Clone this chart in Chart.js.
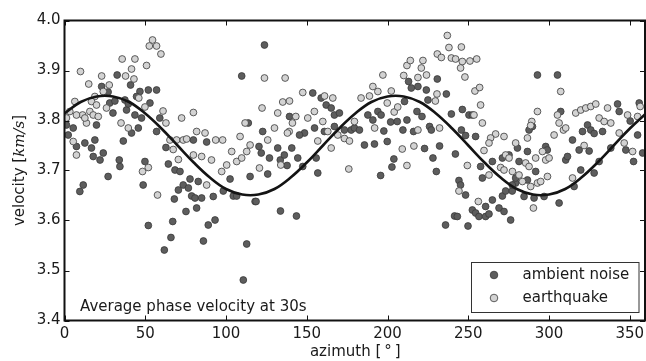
<!DOCTYPE html>
<html>
<head>
<meta charset="utf-8">
<script src="https://cdn.jsdelivr.net/npm/chart.js@4/dist/chart.umd.min.js"></script>
<style>
  html, body { margin: 0; padding: 0; background: #fff; }
  #wrap { width: 646px; height: 361px; }
</style>
</head>
<body>
<div id="wrap"><canvas id="velChart" width="646" height="361"></canvas></div>
<script>
/* ======================================================
   DATA
====================================================== */
const ambientAz = [
    1.2, 2.3, 5.4, 7.4, 12.6, 16.7, 18.8, 17.8, 22.0, 24.0, 11.6, 9.5, 27.0, 19.8, 23.0, 28.0,
    30.0, 32.6, 40.9, 37.4, 38.4, 43.6, 46.7, 51.9, 57.0, 52.9, 47.7, 45.7, 41.5, 36.4, 33.9, 34.3,
    49.8, 48.7, 57.0, 59.0, 62.8, 64.3, 68.4, 71.5, 73.5, 77.7, 76.7, 78.7, 70.5, 68.0, 75.2, 81.8,
    80.8, 84.9, 82.8, 92.1, 98.3, 102.5, 104.5, 106.6, 79.8, 88.0, 114.9, 118.0, 93.2, 89.0, 86.0, 67.0,
    65.9, 61.8, 51.9, 112.8, 110.7, 109.7, 113.8, 27.0, 31.2, 44.6, 39.5,
    123.8, 122.7, 120.4, 121.8, 126.9, 125.8, 118.6, 132.0, 133.6, 136.1, 137.8, 140.7, 144.4, 147.5,
    155.8, 156.8, 133.7, 143.6, 153.7, 158.9, 162.0, 165.1, 167.1, 170.2, 154.8, 148.6, 145.5, 139.3,
    167.1, 160.9, 173.3, 177.5, 179.5, 182.6, 185.7, 191.9, 187.8, 190.9, 194.0, 196.0, 197.7, 199.8,
    201.9, 203.9, 202.7, 195.7, 206.0, 210.5, 209.5, 213.0, 214.7, 218.8, 224.0, 225.0, 230.8, 212.0,
    216.1, 218.2, 221.3, 226.0, 227.1, 232.2, 222.9, 228.1, 230.2, 236.4, 239.5, 235.9, 241.5,
    246.3, 250.4, 252.5, 245.7, 248.3, 254.5, 242.0, 257.6, 258.7, 244.2, 245.2, 248.3, 243.2, 249.8,
    252.5, 254.5, 256.6, 260.7, 262.8, 260.7, 264.9, 269.0, 272.1, 276.2, 271.1, 273.1, 277.2, 279.3,
    264.9, 271.1, 275.2, 280.4, 281.4, 286.6, 286.6, 279.3, 277.2, 284.5, 290.7, 296.9, 306.2, 297.9,
    298.9, 292.8, 305.2, 307.2, 289.7, 287.6, 291.7, 310.3, 311.4, 315.5, 314.5, 320.7, 323.8, 325.8,
    327.9, 333.1, 318.6, 324.8, 319.6, 327.9, 331.0, 338.2, 342.4, 343.4, 350.2, 347.5, 352.3, 355.8,
    354.8, 357.9
];
const ambientVel = [
    3.791, 3.771, 3.785, 3.748, 3.755, 3.745, 3.761, 3.728, 3.721, 3.735, 3.671, 3.658, 3.688, 3.791, 3.868, 3.835,
    3.815, 3.891, 3.871, 3.841, 3.821, 3.811, 3.858, 3.861, 3.861, 3.835, 3.805, 3.785, 3.775, 3.759, 3.721, 3.708,
    3.718, 3.671, 3.778, 3.805, 3.746, 3.713, 3.701, 3.698, 3.671, 3.683, 3.665, 3.649, 3.661, 3.643, 3.618, 3.625,
    3.645, 3.645, 3.678, 3.648, 3.659, 3.683, 3.649, 3.649, 3.761, 3.757, 3.688, 3.638, 3.601, 3.591, 3.559, 3.598,
    3.566, 3.541, 3.590, 3.553, 3.481, 3.889, 3.795, 3.857, 3.839, 3.848, 3.833,
    3.951, 3.778, 3.748, 3.735, 3.725, 3.693, 3.638, 3.745, 3.721, 3.731, 3.710, 3.745, 3.725, 3.708,
    3.725, 3.695, 3.619, 3.609, 3.855, 3.845, 3.831, 3.825, 3.811, 3.815, 3.785, 3.775, 3.771, 3.808,
    3.788, 3.778, 3.781, 3.781, 3.785, 3.781, 3.751, 3.753, 3.811, 3.801, 3.818, 3.811, 3.779, 3.758,
    3.797, 3.723, 3.707, 3.690, 3.798, 3.838, 3.781, 3.878, 3.865, 3.868, 3.861, 3.841, 3.883, 3.801,
    3.778, 3.818, 3.808, 3.788, 3.781, 3.749, 3.744, 3.725, 3.698, 3.853, 3.813, 3.591, 3.609,
    3.822, 3.811, 3.811, 3.781, 3.770, 3.768, 3.733, 3.708, 3.685, 3.680, 3.671, 3.651, 3.608, 3.589,
    3.621, 3.615, 3.608, 3.608, 3.613, 3.628, 3.641, 3.625, 3.618, 3.601, 3.649, 3.659, 3.659, 3.675,
    3.718, 3.725, 3.731, 3.745, 3.718, 3.738, 3.681, 3.685, 3.671, 3.648, 3.645, 3.648, 3.635, 3.748,
    3.741, 3.891, 3.891, 3.818, 3.788, 3.781, 3.698, 3.721, 3.728, 3.668, 3.761, 3.778, 3.791, 3.781,
    3.774, 3.778, 3.741, 3.739, 3.701, 3.695, 3.718, 3.745, 3.833, 3.818, 3.799, 3.741, 3.718, 3.835,
    3.771, 3.735
];

const quakeAz = [
    9.9, 15.0, 23.0, 35.7, 43.6, 41.5, 37.8, 43.0, 50.8, 54.5, 52.5, 57.0, 59.7, 27.7, 24.0, 18.8,
    6.4, 3.3, 11.2, 15.7, 17.8, 13.6, 7.4, 5.4, 35.0, 39.5, 46.0, 49.8, 61.0, 62.8, 79.8, 72.5,
    65.3, 69.4, 73.5, 75.6, 81.8, 87.0, 93.6, 97.9, 79.8, 84.9, 91.0, 103.5, 108.7, 111.8, 51.9, 48.3,
    57.6, 70.5, 67.3, 88.0, 97.3, 106.6, 114.9, 7.4, 12.6, 16.7, 19.8, 26.0, 20.9, 1.2, 100.4, 109.7, 112.8,
    123.8, 136.6, 147.5, 122.3, 135.1, 139.3, 132.0, 143.2, 141.1, 139.1, 138.0, 130.0, 125.8, 120.7,
    133.9, 150.6, 154.7, 159.9, 156.8, 165.1, 161.0, 166.1, 163.0, 169.2, 173.3, 176.4, 176.0, 179.5,
    183.6, 188.8, 190.9, 194.0, 197.1, 199.8, 202.3, 192.0, 204.1, 206.3, 209.1, 212.0, 216.3, 210.0,
    212.0, 214.1, 218.8, 220.9, 221.9, 224.1, 230.6, 229.6, 230.8, 233.3, 237.0, 238.0, 239.5, 232.2,
    218.8,
    245.7, 242.1, 246.3, 251.0, 255.2, 245.2, 247.9, 254.1, 257.0, 257.6, 253.5, 258.7, 266.9, 263.8,
    262.8, 272.1, 259.7, 249.4, 262.8, 244.2, 256.2, 273.1, 275.2, 279.3, 270.0, 272.1, 277.3, 281.4,
    285.5, 287.6, 283.5, 292.8, 289.3, 288.6, 286.6, 291.7, 295.9, 297.9, 300.0, 288.6, 292.8, 294.8,
    299.0, 290.3, 303.1, 307.2, 305.2, 308.9, 310.3, 306.2, 316.5, 319.6, 322.7, 325.8, 328.9, 336.2,
    331.0, 334.1, 338.2, 321.7, 314.5, 343.4, 346.5, 351.7, 348.6, 356.4, 354.8
];
const quakeVel = [
    3.898, 3.873, 3.889, 3.923, 3.923, 3.903, 3.889, 3.883, 3.910, 3.961, 3.949, 3.949, 3.933, 3.871, 3.858, 3.848,
    3.838, 3.818, 3.811, 3.818, 3.811, 3.795, 3.731, 3.758, 3.795, 3.785, 3.845, 3.827, 3.819, 3.795, 3.816, 3.805,
    3.761, 3.761, 3.761, 3.763, 3.778, 3.775, 3.761, 3.761, 3.731, 3.728, 3.721, 3.738, 3.768, 3.795, 3.706, 3.698,
    3.651, 3.722, 3.742, 3.671, 3.698, 3.718, 3.751, 3.811, 3.805, 3.838, 3.831, 3.825, 3.808, 3.805, 3.711, 3.725, 3.738,
    3.885, 3.885, 3.856, 3.825, 3.837, 3.839, 3.815, 3.808, 3.795, 3.778, 3.775, 3.785, 3.761, 3.705,
    3.711, 3.805, 3.818, 3.798, 3.759, 3.745, 3.849, 3.845, 3.778, 3.771, 3.764, 3.759, 3.703, 3.798,
    3.845, 3.849, 3.868, 3.858, 3.891, 3.835, 3.859, 3.785, 3.817, 3.827, 3.743, 3.710, 3.749, 3.890,
    3.910, 3.920, 3.886, 3.905, 3.920, 3.891, 3.853, 3.839, 3.933, 3.926, 3.970, 3.946, 3.925, 3.785,
    3.781,
    3.947, 3.923, 3.918, 3.919, 3.923, 3.905, 3.887, 3.859, 3.866, 3.831, 3.811, 3.795, 3.773, 3.765,
    3.755, 3.768, 3.740, 3.710, 3.691, 3.659, 3.638, 3.731, 3.725, 3.755, 3.706, 3.701, 3.698, 3.691,
    3.715, 3.708, 3.678, 3.818, 3.798, 3.790, 3.765, 3.725, 3.738, 3.721, 3.725, 3.668, 3.675, 3.678,
    3.688, 3.625, 3.771, 3.858, 3.811, 3.781, 3.785, 3.795, 3.815, 3.821, 3.825, 3.828, 3.833, 3.825,
    3.805, 3.798, 3.795, 3.750, 3.685, 3.775, 3.755, 3.738, 3.811, 3.828, 3.808
];

// fitted curve, read every 10 degrees
const fitAz = [0, 10, 20, 30, 40, 50, 60, 70, 80, 90, 100, 110, 120, 130, 140, 150, 160, 170, 180,
               190, 200, 210, 220, 230, 240, 250, 260, 270, 280, 290, 300, 310, 320, 330, 340, 350, 360];
const fitVel = [3.814, 3.837, 3.848, 3.848, 3.837, 3.814, 3.784, 3.750, 3.716, 3.686, 3.663, 3.652, 3.652,
                3.663, 3.686, 3.716, 3.750, 3.784, 3.814, 3.837, 3.848, 3.848, 3.837, 3.814, 3.784, 3.750,
                3.716, 3.686, 3.663, 3.652, 3.652, 3.663, 3.686, 3.716, 3.750, 3.784, 3.814];

const xTicks = [0, 50, 100, 150, 200, 250, 300, 350];
const yTicks = [3.4, 3.5, 3.6, 3.7, 3.8, 3.9, 4.0];

const seriesNames = ['ambient noise', 'earthquake'];
const noteText = 'Average phase velocity at 30s';

/* ======================================================
   STYLE
====================================================== */
const FONT = 'DejaVu Sans';
const FS = 15;
const TXT = '#1a1a1a';
const DARK = '#5d5d5d';
const LIGHT = '#d3d3d3';
const EDGE = '#3a3a3a';

const toPts = (xs, ys) => xs.map((x, i) => ({ x: x, y: ys[i] }));

/* ======================================================
   FRAME / TICKS / TITLES / LEGEND
====================================================== */
const decor = {
    id: 'decor',
    afterDraw(chart) {
        const ctx = chart.ctx;
        const a = chart.chartArea;
        const xs = chart.scales.x;
        const ys = chart.scales.y;
        const tl = 5;

        ctx.save();
        // inward ticks on all four sides
        ctx.strokeStyle = '#111';
        ctx.lineWidth = 1;
        ctx.beginPath();
        xTicks.forEach(v => {
            const px = Math.round(xs.getPixelForValue(v)) + 0.5;
            ctx.moveTo(px, a.bottom); ctx.lineTo(px, a.bottom - tl);
            ctx.moveTo(px, a.top); ctx.lineTo(px, a.top + tl);
        });
        yTicks.forEach(v => {
            const py = Math.round(ys.getPixelForValue(v)) + 0.5;
            ctx.moveTo(a.left, py); ctx.lineTo(a.left + tl, py);
            ctx.moveTo(a.right - 1, py); ctx.lineTo(a.right - 1 - tl, py);
        });
        ctx.stroke();

        // spines
        ctx.lineWidth = 2;
        ctx.strokeRect(a.left, a.top, a.right - a.left - 1, a.bottom - a.top);

        // note in lower left
        ctx.fillStyle = TXT;
        ctx.font = `${FS}px ${FONT}`;
        ctx.textAlign = 'left';
        ctx.textBaseline = 'alphabetic';
        ctx.fillText(noteText, 80, 311);

        // legend
        const lx = 471.5, ly = 262.5, lw = 167.5, lh = 50;
        ctx.fillStyle = '#fff';
        ctx.fillRect(lx, ly, lw, lh);
        ctx.strokeStyle = '#333';
        ctx.lineWidth = 1;
        ctx.strokeRect(lx, ly, lw, lh);
        [[DARK, 275], [LIGHT, 298]].forEach(([c, y], i) => {
            ctx.beginPath();
            ctx.arc(494, y, 3.8, 0, Math.PI * 2);
            ctx.fillStyle = c;
            ctx.fill();
            ctx.strokeStyle = EDGE;
            ctx.lineWidth = 0.8;
            ctx.stroke();
            ctx.fillStyle = TXT;
            ctx.textBaseline = 'middle';
            ctx.fillText(seriesNames[i], 522.5, y);
        });

        // x title
        ctx.textAlign = 'center';
        ctx.textBaseline = 'middle';
        ctx.fillText('azimuth [\u2009°\u2009]', (a.left + a.right) / 2, 352);

        // y title with italic unit
        const parts = [
            ['velocity [', `${FS}px ${FONT}`],
            ['km/s', `italic ${FS}px "DejaVu Serif"`],
            [']', `${FS}px ${FONT}`]
        ];
        let total = 0;
        parts.forEach(p => { ctx.font = p[1]; total += ctx.measureText(p[0]).width; });
        ctx.translate(20, (a.top + a.bottom) / 2);
        ctx.rotate(-Math.PI / 2);
        ctx.textAlign = 'left';
        let cx = -total / 2;
        parts.forEach(p => {
            ctx.font = p[1];
            ctx.fillText(p[0], cx, 0);
            cx += ctx.measureText(p[0]).width;
        });
        ctx.restore();
    }
};

/* ======================================================
   CHART
====================================================== */
const ctx = document.getElementById('velChart').getContext('2d');

new Chart(ctx, {
    type: 'scatter',
    data: {
        datasets: [
            {
                label: 'fit',
                data: toPts(fitAz, fitVel),
                showLine: true,
                borderColor: '#141414',
                borderWidth: 2.6,
                pointRadius: 0,
                tension: 0.4,
                order: 0
            },
            {
                label: seriesNames[1],
                data: toPts(quakeAz, quakeVel),
                backgroundColor: LIGHT,
                borderColor: EDGE,
                borderWidth: 0.8,
                pointRadius: 3.4,
                order: 1
            },
            {
                label: seriesNames[0],
                data: toPts(ambientAz, ambientVel),
                backgroundColor: DARK,
                borderColor: EDGE,
                borderWidth: 0.8,
                pointRadius: 3.4,
                order: 2
            }
        ]
    },
    options: {
        responsive: false,
        animation: false,
        devicePixelRatio: 1,
        layout: {
            autoPadding: false,
            padding: { top: 20.5, right: 0, bottom: 0, left: 0 }
        },
        plugins: {
            legend: { display: false },
            tooltip: { enabled: false }
        },
        scales: {
            x: {
                type: 'linear',
                min: 0,
                max: 360,
                afterFit: s => {
                    s.height = 40.5;
                    s.paddingLeft = 0;
                    s.paddingRight = 0;
                },
                afterBuildTicks: s => { s.ticks = xTicks.map(v => ({ value: v })); },
                grid: { display: false, drawTicks: false },
                border: { display: false },
                ticks: {
                    color: TXT,
                    padding: 5,
                    maxRotation: 0,
                    font: { family: FONT, size: FS }
                }
            },
            y: {
                type: 'linear',
                min: 3.4,
                max: 4.0,
                afterFit: s => {
                    s.width = 64.5;
                    s.paddingTop = 0;
                    s.paddingBottom = 0;
                },
                afterBuildTicks: s => { s.ticks = yTicks.map(v => ({ value: v })); },
                grid: { display: false, drawTicks: false },
                border: { display: false },
                ticks: {
                    color: TXT,
                    padding: 4,
                    font: { family: FONT, size: FS },
                    callback: v => Number(v).toFixed(1)
                }
            }
        }
    },
    plugins: [decor]
});
</script>
</body>
</html>
